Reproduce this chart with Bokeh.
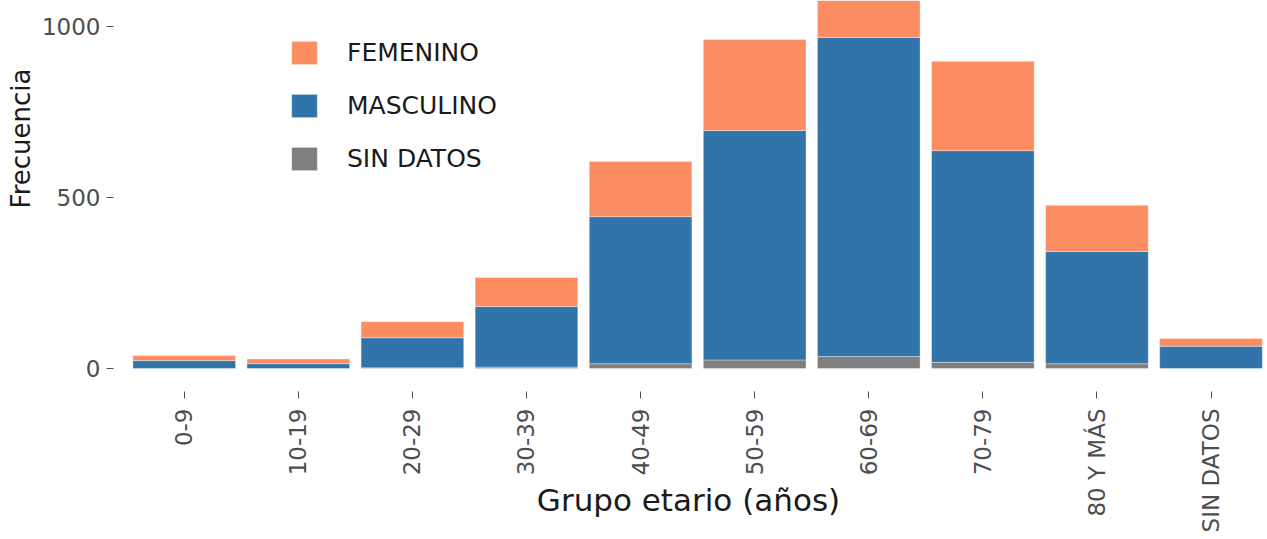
import math
from bokeh.plotting import figure
from bokeh.models import (ColumnDataSource, Range1d, FixedTicker, Legend, LegendItem, Title)
from bokeh.embed import file_html
from bokeh.resources import INLINE

categorias = ["0-9", "10-19", "20-29", "30-39", "40-49", "50-59", "60-69", "70-79", "80 Y MÁS", "SIN DATOS"]
sin_datos = [0, 0, 2, 4, 14, 25, 35, 18, 14, 0]
masculino = [23, 14, 88, 177, 430, 671, 933, 619, 328, 65]
femenino = [15, 14, 47, 85, 161, 266, 280, 261, 135, 23]
series = ["sin_datos", "masculino", "femenino"]
nombres = {"sin_datos": "SIN DATOS", "masculino": "MASCULINO", "femenino": "FEMENINO"}
colores = ["#7f7f7f", "#3274aa", "#fc8d62"]
y_ticks = [0, 500, 1000]

xs = list(range(len(categorias)))
source = ColumnDataSource(data=dict(x=xs, sin_datos=sin_datos, masculino=masculino, femenino=femenino))

FONT = "DejaVu Sans"

p = figure(frame_width=1150, frame_height=391, output_backend="svg", toolbar_location=None,
           x_range=Range1d(-0.62, 9.46), y_range=Range1d(-67.3, 1076),
           min_border_left=113, min_border_right=0, min_border_top=0, min_border_bottom=146,
           background_fill_color="white", border_fill_color="white", outline_line_color=None)

renderers = p.vbar_stack(series, x="x", width=0.9, source=source, color=colores,
                         line_color="white", line_width=0.6, line_alpha=0.6)

p.xgrid.visible = False
p.ygrid.visible = False

# x axis
p.xaxis.ticker = FixedTicker(ticks=xs)
p.xaxis.major_label_overrides = {i: c for i, c in zip(xs, categorias)}
p.xaxis.major_label_orientation = math.pi / 2
p.xaxis.axis_line_color = None
p.xaxis.major_tick_in = 0
p.xaxis.major_tick_out = 7
p.xaxis.major_tick_line_color = "#4d4d4d"
p.xaxis.minor_tick_line_color = None
p.xaxis.major_label_standoff = 10
p.xaxis.major_label_text_font = FONT
p.xaxis.major_label_text_font_size = "23px"
p.xaxis.major_label_text_color = "#4d4d4d"
p.xaxis.axis_label = "Grupo etario (años)"
p.xaxis.axis_label_text_font = FONT
p.xaxis.axis_label_text_font_size = "31px"
p.xaxis.axis_label_text_font_style = "normal"
p.xaxis.axis_label_text_color = "#1a1a1a"
p.xaxis.axis_label_standoff = -53

# y axis
p.yaxis.ticker = FixedTicker(ticks=y_ticks)
p.yaxis.axis_line_color = None
p.yaxis.major_tick_in = 0
p.yaxis.major_tick_out = 7
p.yaxis.major_tick_line_color = "#4d4d4d"
p.yaxis.minor_tick_line_color = None
p.yaxis.major_label_standoff = 6
p.yaxis.major_label_text_font = FONT
p.yaxis.major_label_text_font_size = "23px"
p.yaxis.major_label_text_color = "#4d4d4d"

p.add_layout(Title(text="Frecuencia", align="right", offset=68, standoff=6,
                   text_font=FONT, text_font_size="26px", text_font_style="normal",
                   text_color="#1a1a1a"), "left")

items = [LegendItem(label=nombres[s], renderers=[r]) for s, r in zip(series, renderers)][::-1]
legend = Legend(items=items, location=(175, 218), padding=0, margin=0, spacing=24,
                glyph_width=32, glyph_height=29, label_height=29, label_standoff=27,
                label_text_font=FONT, label_text_font_size="25px", label_text_color="#1a1a1a",
                border_line_color=None, background_fill_alpha=0)
p.add_layout(legend, "center")

open("out.html", "w").write(file_html(p, INLINE))
